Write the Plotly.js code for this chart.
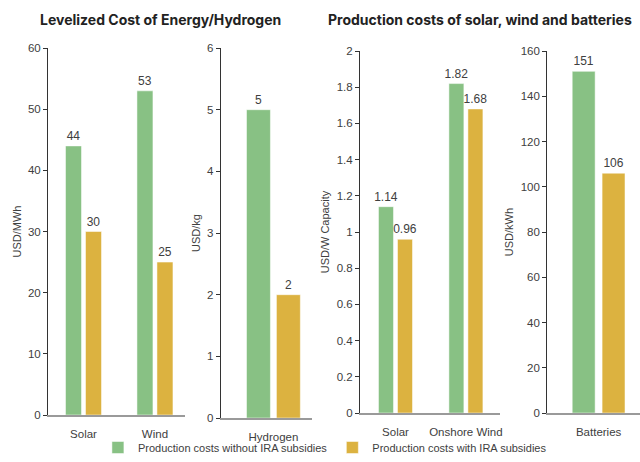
<!DOCTYPE html>
<html>
<head>
<meta charset="utf-8">
<script src="https://cdn.plot.ly/plotly-3.0.1.min.js"></script>
<style>html,body{margin:0;padding:0;background:#fff;}#chart{width:640px;height:462px;}</style>
</head>
<body>
<div id="chart"></div>
<script>
// ---- data ----
var seriesNames = ['Production costs without IRA subsidies', 'Production costs with IRA subsidies'];
var lcoeCats = ['Solar', 'Wind'];
var lcoeWithout = [44, 53];
var lcoeWith = [30, 25];
var h2Cats = ['Hydrogen'];
var h2Without = [5];
var h2With = [2];
var prodCats = ['Solar', 'Onshore Wind'];
var prodWithout = [1.14, 1.82];
var prodWith = [0.96, 1.68];
var battCats = ['Batteries'];
var battWithout = [151];
var battWith = [106];

// ---- styles ----
var GREEN = '#88c184';
var YELLOW = '#dcb240';
var TXT = '#404040';
var FAM = 'Liberation Sans, Arial, sans-serif';
var tickFont = {family: FAM, size: 11.5, color: TXT};

function pair(cats, a, b, ax, w, gap, show) {
  var common = {type: 'bar', x: cats, xaxis: 'x' + ax, yaxis: 'y' + ax,
    textposition: 'outside', cliponaxis: false, texttemplate: '%{y}', constraintext: 'none',
    textfont: {family: FAM, size: 12, color: TXT},
    hoverinfo: 'skip'};
  var t1 = Object.assign({}, common, {y: a, name: seriesNames[0], legendgroup: 'g1', showlegend: show,
    marker: {color: GREEN, line: {color: '#ffffff', width: 0.5}}, width: w, offset: -w - gap / 2});
  var t2 = Object.assign({}, common, {y: b, name: seriesNames[1], legendgroup: 'g2', showlegend: show,
    marker: {color: YELLOW, line: {color: '#ffffff', width: 0.5}}, width: w, offset: gap / 2});
  return [t1, t2];
}

var data = [].concat(
  pair(lcoeCats, lcoeWithout, lcoeWith, '', 0.224, 0.056, true),
  pair(h2Cats, h2Without, h2With, '2', 0.262, 0.066, false),
  pair(prodCats, prodWithout, prodWith, '3', 0.213, 0.057, false),
  pair(battCats, battWithout, battWith, '4', 0.247, 0.075, false)
);

function xax(dom, rng, anchor) {
  return {domain: dom, range: rng, anchor: anchor, showline: true, linecolor: '#9a9a9a', linewidth: 2,
    ticks: '', ticklabelstandoff: 7, tickfont: tickFont, showgrid: false, zeroline: false, fixedrange: true};
}
function yax(dom, rng, dt, title, anchor) {
  return {domain: dom, range: rng, dtick: dt, anchor: anchor, showline: true, linecolor: '#333333', linewidth: 1,
    ticks: 'outside', ticklen: 4, tickcolor: '#333333', tickfont: tickFont, showgrid: false, zeroline: false,
    title: {text: title, font: {family: FAM, size: 11, color: TXT}, standoff: 4}, fixedrange: true};
}

var layout = {
  width: 640, height: 462,
  margin: {l: 0, r: 0, t: 0, b: 0},
  paper_bgcolor: '#ffffff', plot_bgcolor: 'rgba(0,0,0,0)',
  showlegend: true,
  xaxis: xax([0.075, 0.289], [-0.497, 1.42], 'y'),
  yaxis: yax([0.1017, 0.896], [0, 60], 10, 'USD/MWh', 'x'),
  xaxis2: xax([0.345, 0.4875], [-0.577, 0.423], 'y2'),
  yaxis2: yax([0.0952, 0.896], [0, 6], 1, 'USD/kg', 'x2'),
  xaxis3: xax([0.5625, 0.781], [-0.504, 1.482], 'y3'),
  yaxis3: yax([0.106, 0.8896], [0, 2], 0.2, 'USD/W Capacity', 'x3'),
  xaxis4: xax([0.855, 1.0], [-0.554, 0.446], 'y4'),
  yaxis4: yax([0.106, 0.8896], [0, 160], 20, 'USD/kWh', 'x4'),
  legend: {orientation: 'h', x: 0.153, xanchor: 'left', y: 0.0, yanchor: 'bottom',
    font: {family: FAM, size: 11, color: TXT}, itemwidth: 30, tracegroupgap: 0,
    traceorder: 'normal', bgcolor: 'rgba(0,0,0,0)'},
  annotations: [
    {text: '<b>Levelized Cost of Energy/Hydrogen</b>', xref: 'paper', yref: 'paper', x: 160 / 640, y: 1 - 20 / 462,
      xanchor: 'center', yanchor: 'middle', showarrow: false,
      font: {family: 'Inter, sans-serif', size: 14, color: '#222222'}},
    {text: '<b>Production costs of solar, wind and batteries</b>', xref: 'paper', yref: 'paper', x: 480 / 640, y: 1 - 20 / 462,
      xanchor: 'center', yanchor: 'middle', showarrow: false,
      font: {family: 'Inter, sans-serif', size: 14, color: '#222222'}}
  ]
};

Plotly.newPlot('chart', data, layout, {displayModeBar: false, staticPlot: true});
</script>
</body>
</html>
